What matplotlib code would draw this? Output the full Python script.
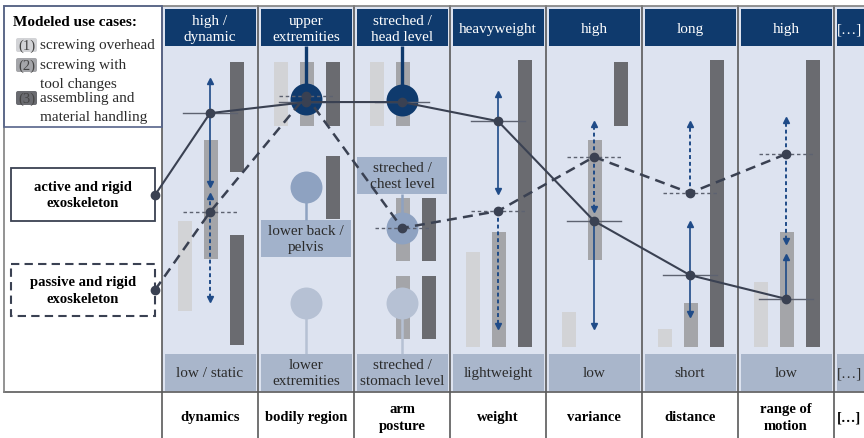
import matplotlib
matplotlib.use('Agg')
import matplotlib.pyplot as plt
from matplotlib.patches import Rectangle, FancyBboxPatch

plt.rcParams['font.family'] = ['Liberation Serif', 'DejaVu Serif']

# ---------------- data ----------------
categories = ["dynamics", "bodily region", "arm\nposture", "weight", "variance",
              "distance", "range of\nmotion", "[…]"]
high_labels = ["high /\ndynamic", "upper\nextremities", "streched /\nhead level", "heavyweight",
               "high", "long", "high", "[…]"]
low_labels = ["low / static", "lower\nextremities", "streched /\nstomach level", "lightweight",
              "low", "short", "low", "[…]"]

case_ids = ["(1)", "(2)", "(3)"]
case_lines = [["screwing overhead"], ["screwing with", "tool changes"],
              ["assembling and", "material handling"]]

# bars (level scale 0 = low end, 100 = high end)
case1_cols = [0, 1, 2, 3, 4, 5, 6]
case1_low = [14.0, 74.0, 74.0, 2.3, 2.3, 2.3, 2.3]
case1_high = [43.2, 94.8, 94.8, 33.1, 13.6, 8.1, 23.4]

case2_cols = [0, 1, 2, 2, 2, 3, 4, 5, 6]
case2_low = [30.8, 74.0, 74.0, 30.2, 4.9, 2.3, 30.5, 2.3, 2.3]
case2_high = [69.5, 94.8, 94.8, 50.6, 25.3, 39.6, 69.5, 16.6, 39.6]

case3_cols = [0, 0, 1, 1, 2, 2, 3, 4, 5, 6]
case3_low = [59.1, 2.9, 74.0, 43.8, 30.2, 4.9, 2.3, 74.0, 2.3, 2.3]
case3_high = [94.8, 38.6, 94.8, 64.3, 50.6, 25.3, 95.5, 94.8, 95.5, 95.5]

# exoskeleton profiles
series_names = ["active and rigid\nexoskeleton", "passive and rigid\nexoskeleton"]
active_start = 51.6
active_vals = [78.2, 81.8, 81.8, 75.6, 43.2, 25.6, 17.9]
passive_start = 20.8
passive_vals = [46.1, 83.8, 40.9, 46.4, 64.0, 52.3, 64.9]

# range arrows (column, tip level)
active_arrow_cols = [0, 0, 3, 3, 4, 5, 5, 6]
active_arrow_tips = [88.6, 55.2, 84.4, 52.9, 9.1, 42.2, 13.0, 31.5]
passive_arrow_cols = [0, 0, 3, 4, 4, 5, 6, 6]
passive_arrow_tips = [51.3, 17.9, 9.1, 74.7, 47.1, 74.7, 76.0, 36.7]

# discrete options (circles)
circle_cols = [1, 1, 1, 2, 2, 2]
circle_levels = [82.8, 54.2, 16.6, 82.5, 40.9, 16.6]
circle_kind = [0, 1, 2, 0, 1, 2]
circle_stem_to = [100, 43.5, 0, 100, 51.9, 0]

midbox_cols = [1, 2]
midbox_labels = ["lower back /\npelvis", "streched /\nchest level"]
midbox_low = [31.5, 51.9]
midbox_high = [43.5, 64.0]

# ---------------- style ----------------
NAVY = '#0f3a6d'
BG = '#dde3f0'
FOOT = '#a9b6cb'
MIDBOX = '#a2b2cb'
BAR_COLORS = ['#d2d3d6', '#a4a5a9', '#6a6b70']
CIRCLE_COLORS = [NAVY, '#8ea2c1', '#b6c1d4']
LINE = '#3a4152'
ARROW = '#1f4b88'
TXT = '#2b2b2b'
SEP = '#5a5a5a'

W, H = 864, 439
fig = plt.figure(figsize=(W / 100, H / 100), dpi=100)
base = fig.add_axes([0, 0, 1, 1])
base.set_xlim(0, W)
base.set_ylim(H, 0)
base.axis('off')

X0, CW, N = 162, 96, 8
Y_TOP, Y_HEAD, Y_FOOT, Y_BOT = 7, 47, 355, 393

# column backgrounds, headers, footers
for i in range(N):
    x = X0 + i * CW
    base.add_patch(Rectangle((x, Y_TOP), CW, Y_BOT - Y_TOP, fc=BG, ec='none', zorder=0))
    base.add_patch(Rectangle((x + 2.5, 10), CW - 5, 37, fc=NAVY, ec='none', zorder=1))
    base.add_patch(Rectangle((x + 2.5, 355), CW - 5, 37, fc=FOOT, ec='none', zorder=1))
    if i < N - 1:
        tx, ha = x + CW / 2, 'center'
    else:
        tx, ha = x + 3, 'left'
    base.text(tx, 29.5, high_labels[i], color='white', fontsize=11, ha=ha, va='center',
              linespacing=1.3, zorder=3)
    base.text(tx, 374, low_labels[i], color=TXT, fontsize=11, ha=ha, va='center',
              linespacing=1.3, zorder=3)
    base.text(tx, 418, categories[i], color='black', fontsize=10.5, fontweight='bold',
              ha=ha, va='center', linespacing=1.35, zorder=3)

# separators and frame
for i in range(N):
    x = X0 + i * CW
    base.plot([x, x], [Y_TOP, H], color=SEP, lw=1.2, zorder=2)
base.plot([4, W], [Y_TOP, Y_TOP], color='#808080', lw=1.2, zorder=2)
base.plot([4, W], [Y_BOT, Y_BOT], color=SEP, lw=1.2, zorder=2)
base.plot([4, 4], [Y_TOP, Y_BOT], color='#808080', lw=1.2, zorder=2)
base.add_patch(Rectangle((4, Y_TOP), X0 - 4, 121, fc='none', ec='#56648a', lw=1.2, zorder=2))

# legend of use cases
base.text(13, 23, "Modeled use cases:", fontsize=11, fontweight='bold', color='black',
          ha='left', va='center')
legend_y = [46, 66, 99]
for k in range(3):
    yc = legend_y[k]
    base.add_patch(FancyBboxPatch((16, yc - 7), 21, 14, boxstyle='round,pad=0,rounding_size=2',
                                  fc=BAR_COLORS[k], ec='none'))
    base.text(26.5, yc, case_ids[k], fontsize=10.5, color='#444444', ha='center', va='center')
    for j, line in enumerate(case_lines[k]):
        base.text(39.5, yc + j * 18.5, line, fontsize=11, color=TXT,
                  ha='left', va='center')

# exoskeleton boxes
base.add_patch(Rectangle((11, 169), 144, 53, fc='white', ec=LINE, lw=1.3, zorder=2))
base.text(83, 195.5, series_names[0], fontsize=10.5, fontweight='bold', ha='center', va='center',
          linespacing=1.35, zorder=3)
base.add_patch(Rectangle((11, 265), 144, 52, fc='white', ec=LINE, lw=1.5, ls=(0, (4, 2.5)), zorder=2))
base.text(83, 291, series_names[1], fontsize=10.5, fontweight='bold', ha='center', va='center',
          linespacing=1.35, zorder=3)

# ---------------- panel axes (data scale) ----------------
pax = fig.add_axes([X0 / W, (H - Y_FOOT) / H, (W - X0) / W, (Y_FOOT - Y_HEAD) / H])
pax.set_xlim(0, (W - X0) / CW)
pax.set_ylim(0, 100)
pax.axis('off')

slots = [0.24, 0.51, 0.78]
for k, (cols, lows, highs) in enumerate([(case1_cols, case1_low, case1_high),
                                         (case2_cols, case2_low, case2_high),
                                         (case3_cols, case3_low, case3_high)]):
    xs = [c + slots[k] for c in cols]
    hs = [h - l for l, h in zip(lows, highs)]
    pax.bar(xs, hs, bottom=lows, width=0.14, color=BAR_COLORS[k], zorder=2)

# mid option boxes
for c, lab, lo, hi in zip(midbox_cols, midbox_labels, midbox_low, midbox_high):
    pax.add_patch(Rectangle((c + 0.03, lo), 0.94, hi - lo, fc=MIDBOX, ec='none', zorder=3))
    pax.text(c + 0.5, (lo + hi) / 2, lab, fontsize=11, color=TXT, ha='center', va='center',
             linespacing=1.3, zorder=4)

# circles with stems
for c, lv, kd, st in zip(circle_cols, circle_levels, circle_kind, circle_stem_to):
    col = CIRCLE_COLORS[kd]
    pax.plot([c + 0.5, c + 0.5], [lv, st], color=col, lw=2.4 if kd == 0 else 1.8, zorder=4,
             solid_capstyle='butt')
    pax.plot([c + 0.5], [lv], 'o', ms=23, mfc=col, mec='none', zorder=5)

# horizontal ticks
for c in range(7):
    pax.plot([c + 0.22, c + 0.78], [active_vals[c]] * 2, color='#5d6270', lw=1.0, zorder=6)
    pax.plot([c + 0.22, c + 0.78], [passive_vals[c]] * 2, color='#5d6270', lw=1.0,
             ls=(0, (2.5, 2)), zorder=6)

# arrows
def draw_arrows(cols, tips, vals, ls, lw):
    for c, t in zip(cols, tips):
        x = c + 0.5
        v = vals[c]
        pax.plot([x, x], [v, t], color=ARROW, lw=lw, ls=ls, zorder=7)
        pax.plot([x], [t], marker='^' if t > v else 'v', ms=5, color=ARROW, mec=ARROW, zorder=7)

draw_arrows(active_arrow_cols, active_arrow_tips, active_vals, '-', 1.2)
draw_arrows(passive_arrow_cols, passive_arrow_tips, passive_vals, (0, (2, 1.5)), 1.4)

# profile lines
x_start = (155 - X0) / CW
xs = [x_start] + [c + 0.5 for c in range(7)]
pax.plot(xs, [active_start] + active_vals, color=LINE, lw=1.5, zorder=8, clip_on=False)
pax.plot(xs, [passive_start] + passive_vals, color=LINE, lw=1.8, ls=(0, (4, 2.5)), zorder=8,
         clip_on=False)
pax.plot(xs, [active_start] + active_vals, 'o', ms=6, color=LINE, zorder=9, clip_on=False)
pax.plot(xs, [passive_start] + passive_vals, 'o', ms=6, color=LINE, zorder=9, clip_on=False)

fig.savefig('out.png', dpi=100)
